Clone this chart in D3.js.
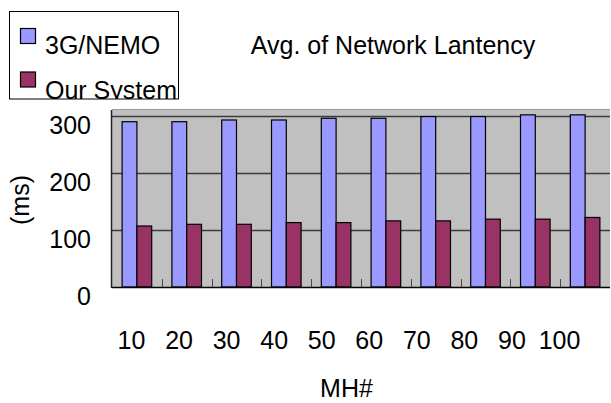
<!DOCTYPE html>
<html>
<head>
<meta charset="utf-8">
<script src="https://cdn.jsdelivr.net/npm/d3@7"></script>
<style>
    body { margin: 0; background: #fff; }
    svg { display: block; font-family: "Liberation Sans", Arial, sans-serif; }
</style>
</head>
<body>
<div id="chart"></div>
<script>
// chart data
const mhCounts = ["10", "20", "30", "40", "50", "60", "70", "80", "90", "100"];
const seriesNames = ["3G/NEMO", "Our System"];
const nemoLatency = [290, 290, 293, 293, 296, 296, 299, 299, 302, 302];
const ourLatency = [107, 110, 110, 113, 113, 116, 116, 119, 119, 122];
const yTicks = [0, 100, 200, 300];
const seriesColors = ["#9999FF", "#993366"];

const width = 611, height = 403;
const plot = { left: 112, right: 610, top: 110, bottom: 287 };

const svg = d3.select("#chart").append("svg")
    .attr("width", width)
    .attr("height", height);

// scales
const x0 = d3.scaleBand().domain(mhCounts).range([plot.left, plot.right]).paddingInner(0).paddingOuter(0);
const x1 = d3.scaleBand().domain(seriesNames).range([x0.bandwidth() * 0.203, x0.bandwidth() * 0.797]);
const y = d3.scaleLinear().domain([0, 300]).range([plot.bottom, 116]);
// tick labels sit on a slightly tighter spacing than the bars
const xLabel = d3.scalePoint().domain(mhCounts).range([131.5, 559.5]);

// plot background
svg.append("rect")
    .attr("x", plot.left)
    .attr("y", plot.top)
    .attr("width", plot.right - plot.left)
    .attr("height", plot.bottom - plot.top)
    .attr("fill", "#C0C0C0");

svg.append("line")
    .attr("x1", plot.left).attr("x2", plot.right)
    .attr("y1", plot.top - 0.5).attr("y2", plot.top - 0.5)
    .attr("stroke", "#9a9a9a");

// gridlines
svg.append("g")
    .selectAll("line")
    .data(yTicks.filter(d => d > 0))
    .join("line")
    .attr("x1", plot.left).attr("x2", plot.right)
    .attr("y1", d => Math.round(y(d)) + 0.5)
    .attr("y2", d => Math.round(y(d)) + 0.5)
    .attr("stroke", "#3c3c3c")
    .attr("stroke-width", 1.3);

// bars
const rows = mhCounts.map((mh, i) => ({ mh, values: [nemoLatency[i], ourLatency[i]] }));

svg.append("g")
    .selectAll("g")
    .data(rows)
    .join("g")
    .attr("transform", d => `translate(${x0(d.mh)},0)`)
    .selectAll("rect")
    .data(d => d.values.map((v, j) => ({ name: seriesNames[j], value: v, color: seriesColors[j] })))
    .join("rect")
    .attr("x", d => x1(d.name))
    .attr("y", d => y(d.value))
    .attr("width", x1.bandwidth())
    .attr("height", d => y(0) - y(d.value))
    .attr("fill", d => d.color)
    .attr("stroke", "#000")
    .attr("stroke-width", 1.2);

// category tick marks (inside, between groups)
svg.append("g")
    .selectAll("line")
    .data(mhCounts.slice(1))
    .join("line")
    .attr("x1", d => Math.round(x0(d)) + 0.5)
    .attr("x2", d => Math.round(x0(d)) + 0.5)
    .attr("y1", plot.bottom - 8)
    .attr("y2", plot.bottom)
    .attr("stroke", "#4a4a4a");

// axis lines
svg.append("line")
    .attr("x1", plot.left).attr("x2", plot.right)
    .attr("y1", plot.bottom + 0.5).attr("y2", plot.bottom + 0.5)
    .attr("stroke", "#000").attr("stroke-width", 1.5);

svg.append("line")
    .attr("x1", plot.left - 0.5).attr("x2", plot.left - 0.5)
    .attr("y1", plot.top).attr("y2", plot.bottom + 1)
    .attr("stroke", "#222").attr("stroke-width", 1.5);

// y tick labels
svg.append("g")
    .selectAll("text")
    .data(yTicks)
    .join("text")
    .attr("x", 91)
    .attr("y", d => y(d) + 17.5)
    .attr("text-anchor", "end")
    .attr("font-size", "25px")
    .attr("fill", "#000")
    .text(d => d);

// x tick labels
svg.append("g")
    .selectAll("text")
    .data(mhCounts)
    .join("text")
    .attr("x", d => xLabel(d))
    .attr("y", 348.5)
    .attr("text-anchor", "middle")
    .attr("font-size", "25px")
    .attr("fill", "#000")
    .text(d => d);

// axis titles
svg.append("text")
    .attr("x", 346.5)
    .attr("y", 397)
    .attr("text-anchor", "middle")
    .attr("font-size", "25px")
    .text("MH#");

svg.append("text")
    .attr("transform", "translate(29,200) rotate(-90)")
    .attr("text-anchor", "middle")
    .attr("font-size", "25px")
    .text("(ms)");

// chart title
svg.append("text")
    .attr("x", 393)
    .attr("y", 53.5)
    .attr("text-anchor", "middle")
    .attr("font-size", "25px")
    .text("Avg. of Network Lantency");

// legend box (second label is cut by the bottom edge, as in the original)
const legend = { x: 9.5, y: 11.5, w: 169, h: 87.5 };

svg.append("clipPath")
    .attr("id", "legend-clip")
    .append("rect")
    .attr("x", legend.x).attr("y", legend.y)
    .attr("width", legend.w).attr("height", legend.h);

const legendGroup = svg.append("g");

legendGroup.append("rect")
    .attr("x", legend.x).attr("y", legend.y)
    .attr("width", legend.w).attr("height", legend.h)
    .attr("fill", "#fff")
    .attr("stroke", "#000");

const legendItems = legendGroup.append("g")
    .attr("clip-path", "url(#legend-clip)")
    .selectAll("g")
    .data(seriesNames)
    .join("g")
    .attr("transform", (d, i) => `translate(0,${i * 43.5})`);

legendItems.append("rect")
    .attr("x", 20.5).attr("y", 28.5)
    .attr("width", 15).attr("height", 15)
    .attr("fill", (d, i) => seriesColors[i])
    .attr("stroke", "#000")
    .attr("stroke-width", 1.2);

legendItems.append("text")
    .attr("x", 45)
    .attr("y", (d, i) => i === 0 ? 54 : 55)
    .attr("font-size", "25px")
    .text(d => d);
</script>
</body>
</html>
